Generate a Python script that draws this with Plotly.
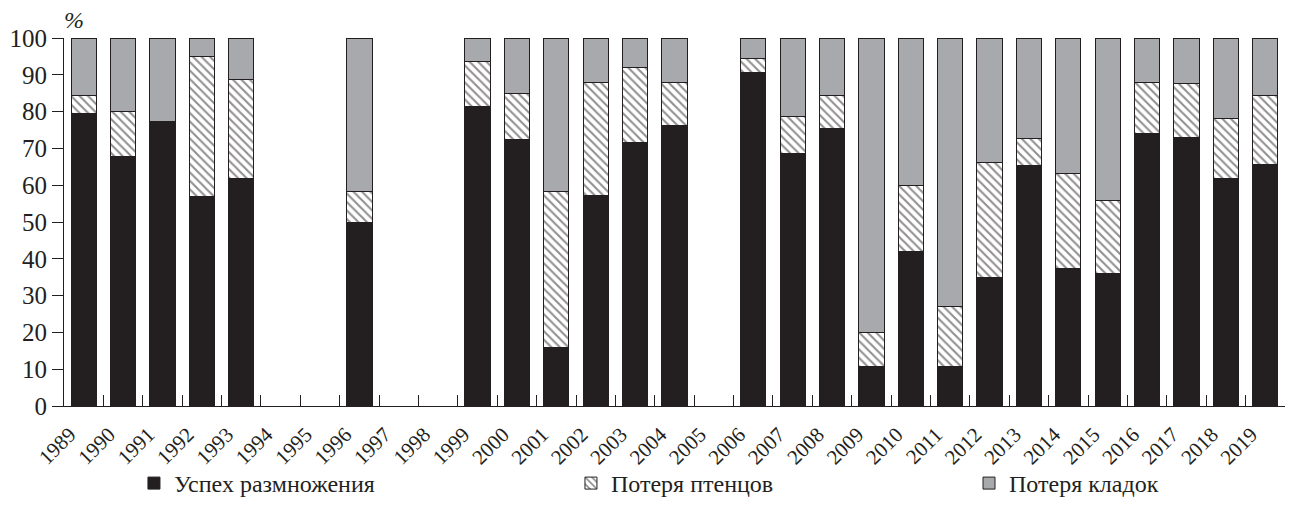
import plotly.graph_objects as go

years = [str(y) for y in range(1989, 2020)]

# Успех размножения (breeding success), %
success = [79.4, 67.8, 77.2, 56.8, 61.7, None, None, 50.0, None, None,
           81.3, 72.4, 15.9, 57.1, 71.7, 76.1, None, 90.6, 68.5, 75.4,
           10.6, 42.0, 10.6, 34.9, 65.4, 37.3, 36.0, 74.1, 73.0, 61.7, 65.7]
# Потеря птенцов (chick loss), %
chick_loss = [4.9, 12.2, 0.0, 38.3, 27.1, None, None, 8.2, None, None,
              12.4, 12.4, 42.3, 30.9, 20.3, 11.9, None, 3.8, 10.3, 9.0,
              9.3, 17.9, 16.5, 31.4, 7.4, 25.8, 19.9, 13.9, 14.6, 16.4, 18.6]
# Потеря кладок (clutch loss), %
clutch_loss = [15.7, 20.0, 22.8, 4.9, 11.2, None, None, 41.8, None, None,
               6.3, 15.2, 41.8, 12.0, 8.0, 12.0, None, 5.6, 21.2, 15.6,
               80.1, 40.1, 72.9, 33.7, 27.2, 36.9, 44.1, 12.0, 12.4, 21.9, 15.7]

names = ["Успех размножения", "Потеря птенцов", "Потеря кладок"]

DARK = "#231f20"
GRAY = "#a7a9ac"
FONT = "Liberation Serif"

fig = go.Figure()
fig.add_trace(go.Bar(
    x=years, y=success, name=names[0], legend="legend",
    marker=dict(color=DARK, line=dict(color=DARK, width=1)),
))
fig.add_trace(go.Bar(
    x=years, y=chick_loss, name=names[1], legend="legend2",
    marker=dict(color="white", line=dict(color=DARK, width=1),
                pattern=dict(shape="\\", fgcolor=DARK, bgcolor="white",
                             size=6, solidity=0.35, fillmode="overlay")),
))
fig.add_trace(go.Bar(
    x=years, y=clutch_loss, name=names[2], legend="legend3",
    marker=dict(color=GRAY, line=dict(color=DARK, width=1)),
))

leg_common = dict(orientation="h", yanchor="bottom", y=-0.2717, xanchor="left",
                  font=dict(family=FONT, size=24, color=DARK),
                  bgcolor="rgba(0,0,0,0)", borderwidth=0, itemwidth=30)

fig.update_layout(
    width=1290, height=506,
    margin=dict(l=64, r=5, t=38, b=100, autoexpand=False),
    paper_bgcolor="white", plot_bgcolor="white",
    barmode="stack", bargap=0.36,
    showlegend=True,
    legend=dict(x=0.0573, **leg_common),
    legend2=dict(x=0.4152, **leg_common),
    legend3=dict(x=0.7412, **leg_common),
    font=dict(family=FONT, color=DARK),
    xaxis=dict(
        type="category", categoryorder="array", categoryarray=years,
        tickson="boundaries", ticks="inside", ticklen=11, tickwidth=1,
        tickcolor=DARK, showline=True, linecolor=DARK, linewidth=1,
        showgrid=False, tickangle=-45, ticklabelshift=-14,
        ticklabelstandoff=7,
        tickfont=dict(family=FONT, size=21, color=DARK),
        range=[-0.5, 30.5],
    ),
    yaxis=dict(
        range=[0, 100], dtick=10, tick0=0, ticks="outside", ticklen=11,
        tickwidth=1, tickcolor=DARK, showline=True, linecolor=DARK,
        linewidth=1, showgrid=False, zeroline=False,
        tickfont=dict(family=FONT, size=25, color=DARK),
    ),
    annotations=[dict(
        text="<i>%</i>", xref="paper", yref="paper", x=0.0, y=1.0,
        xanchor="left", yanchor="bottom", yshift=3, xshift=-2, showarrow=False,
        font=dict(family=FONT, size=24, color=DARK),
    )],
)

fig.write_html("out.html")
